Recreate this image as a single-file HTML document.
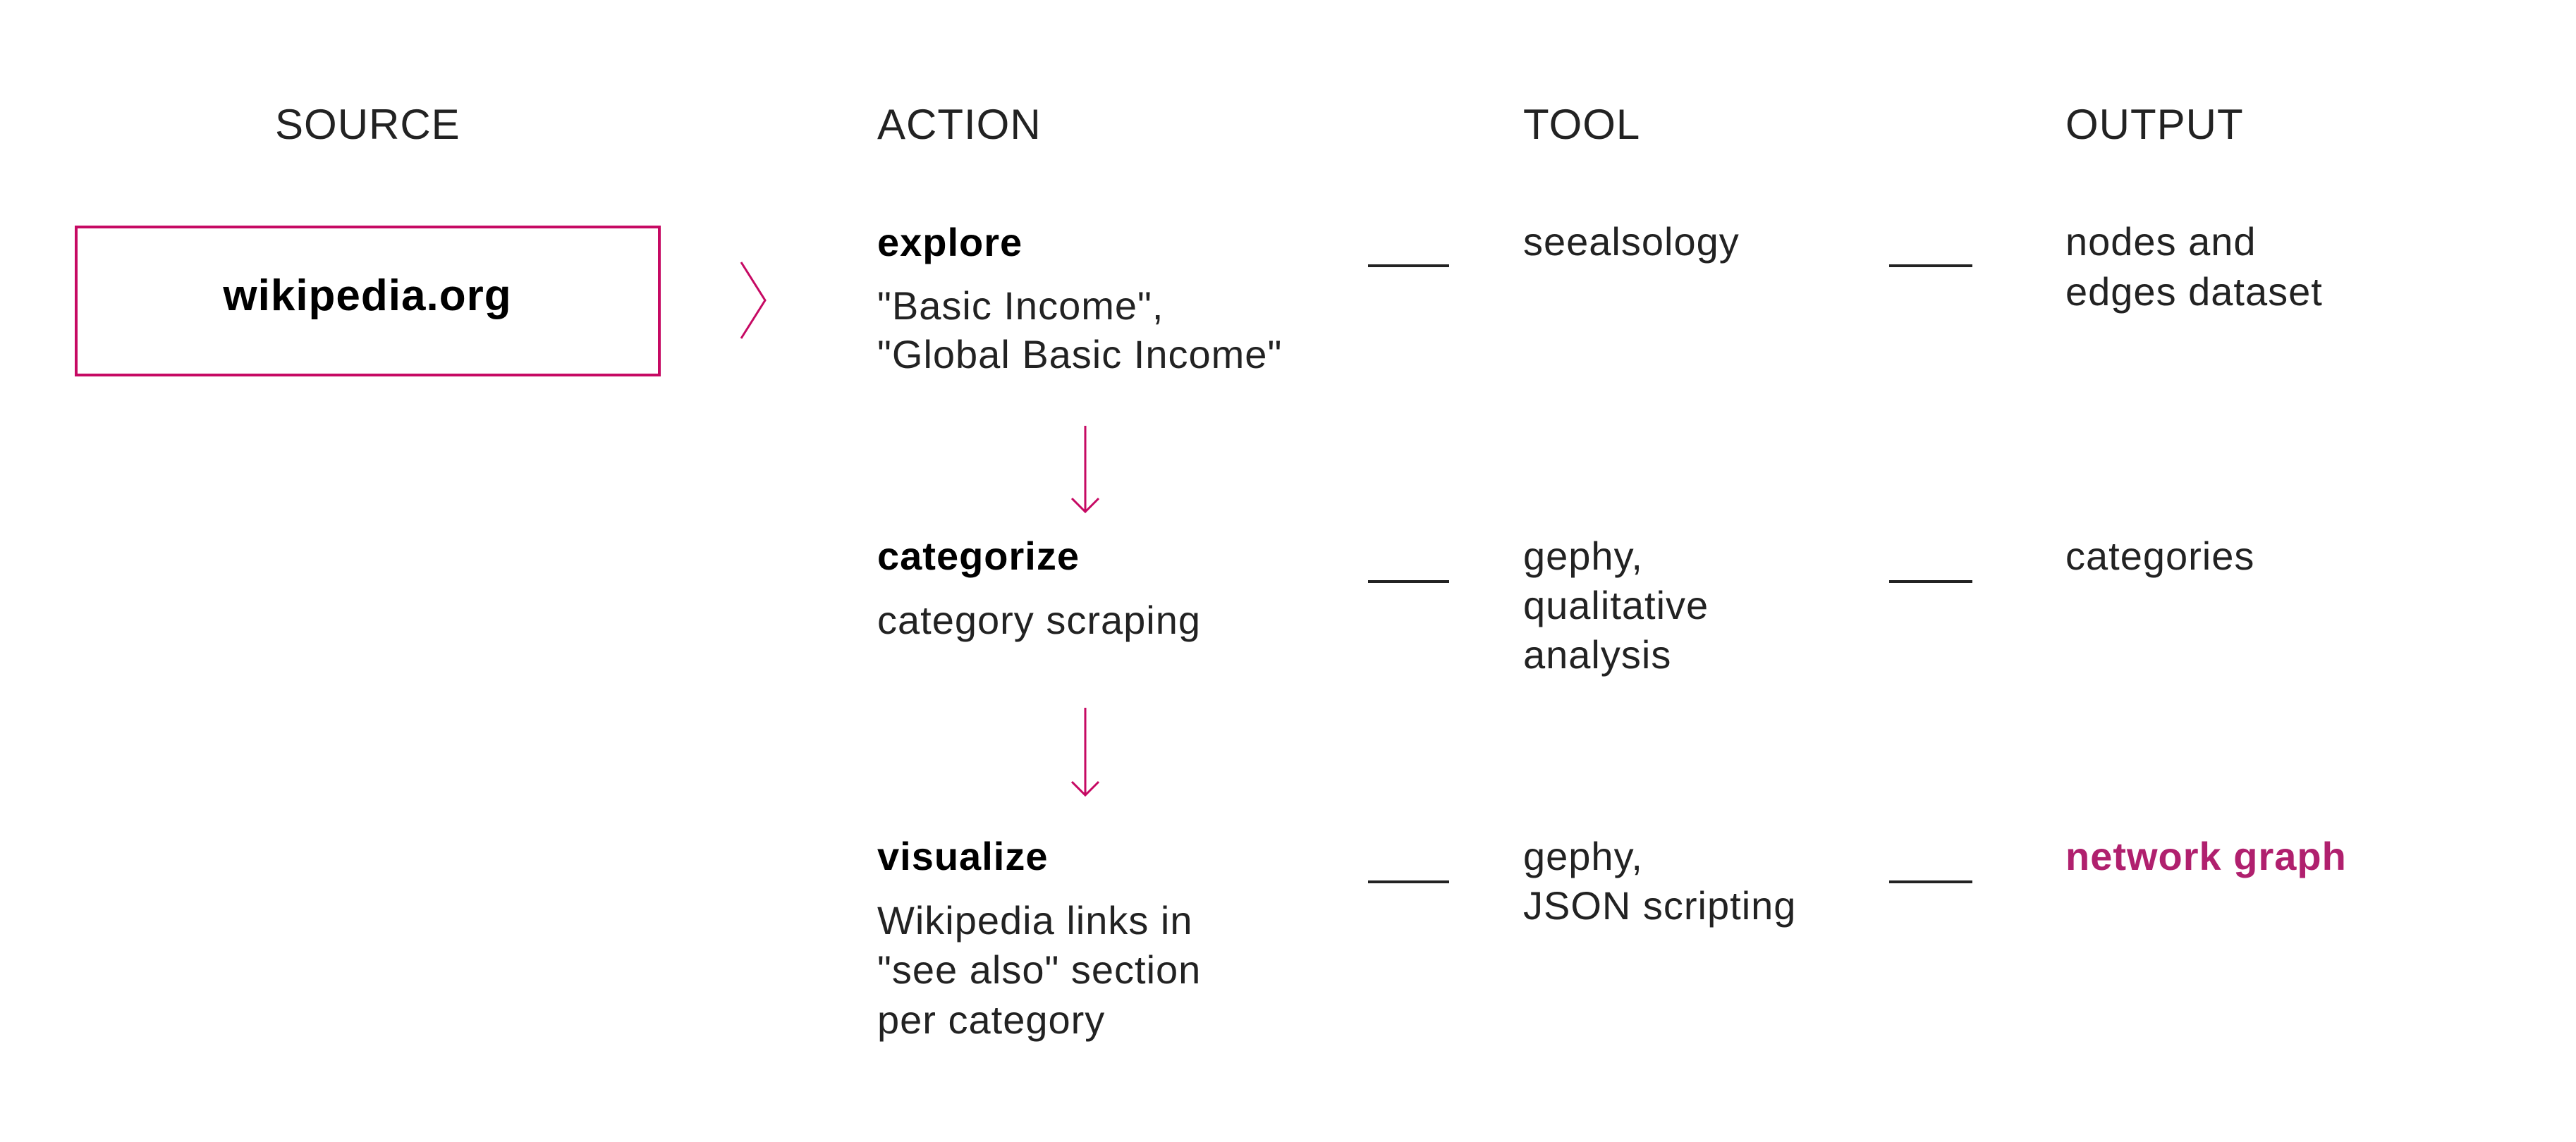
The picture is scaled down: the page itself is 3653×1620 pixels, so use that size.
<!DOCTYPE html>
<html><head><meta charset="utf-8"><style>
html,body{margin:0;padding:0;background:#fff;}
svg{display:block}
text{font-family:"Liberation Sans",sans-serif;font-size:56px;fill:#222;letter-spacing:1px}
.h{font-size:60px;fill:#222}
.b{font-weight:bold;fill:#000}
</style></head><body>
<svg width="3653" height="1620" viewBox="0 0 3653 1620" xmlns="http://www.w3.org/2000/svg">
<text class="h" x="390" y="197">SOURCE</text>
<text class="h" x="1244" y="197">ACTION</text>
<text class="h" x="2160" y="197">TOOL</text>
<text class="h" x="2929" y="197">OUTPUT</text>

<rect x="108" y="322" width="827" height="210" fill="none" stroke="#c60963" stroke-width="4"/>
<text class="b" x="521" y="440" text-anchor="middle" style="font-size:62px">wikipedia.org</text>
<polyline points="1051,372 1085,426 1051,480" fill="none" stroke="#c60963" stroke-width="3"/>

<text class="b" x="1244" y="363">explore</text>
<text x="1244" y="453">"Basic Income",</text>
<text x="1244" y="522">"Global Basic Income"</text>

<line x1="1539" y1="604" x2="1539" y2="724" stroke="#c60963" stroke-width="3"/>
<polyline points="1520,707 1539,726 1558,707" fill="none" stroke="#c60963" stroke-width="3"/>
<line x1="1539" y1="1004" x2="1539" y2="1126" stroke="#c60963" stroke-width="3"/>
<polyline points="1520,1109 1539,1128 1558,1109" fill="none" stroke="#c60963" stroke-width="3"/>

<text class="b" x="1244" y="808">categorize</text>
<text x="1244" y="899">category scraping</text>

<text class="b" x="1244" y="1234">visualize</text>
<text x="1244" y="1325">Wikipedia links in</text>
<text x="1244" y="1395">"see also" section</text>
<text x="1244" y="1466">per category</text>

<g stroke="#222" stroke-width="4">
<line x1="1940" y1="377" x2="2055" y2="377"/>
<line x1="2679" y1="377" x2="2797" y2="377"/>
<line x1="1940" y1="825" x2="2055" y2="825"/>
<line x1="2679" y1="825" x2="2797" y2="825"/>
<line x1="1940" y1="1251" x2="2055" y2="1251"/>
<line x1="2679" y1="1251" x2="2797" y2="1251"/>
</g>

<text x="2160" y="362">seealsology</text>
<text x="2160" y="808">gephy,</text>
<text x="2160" y="878">qualitative</text>
<text x="2160" y="948">analysis</text>
<text x="2160" y="1234">gephy,</text>
<text x="2160" y="1304">JSON scripting</text>

<text x="2929" y="362">nodes and</text>
<text x="2929" y="433">edges dataset</text>
<text x="2929" y="808">categories</text>
<text class="b" x="2929" y="1234" style="fill:#b0206e">network graph</text>
</svg>
</body></html>
